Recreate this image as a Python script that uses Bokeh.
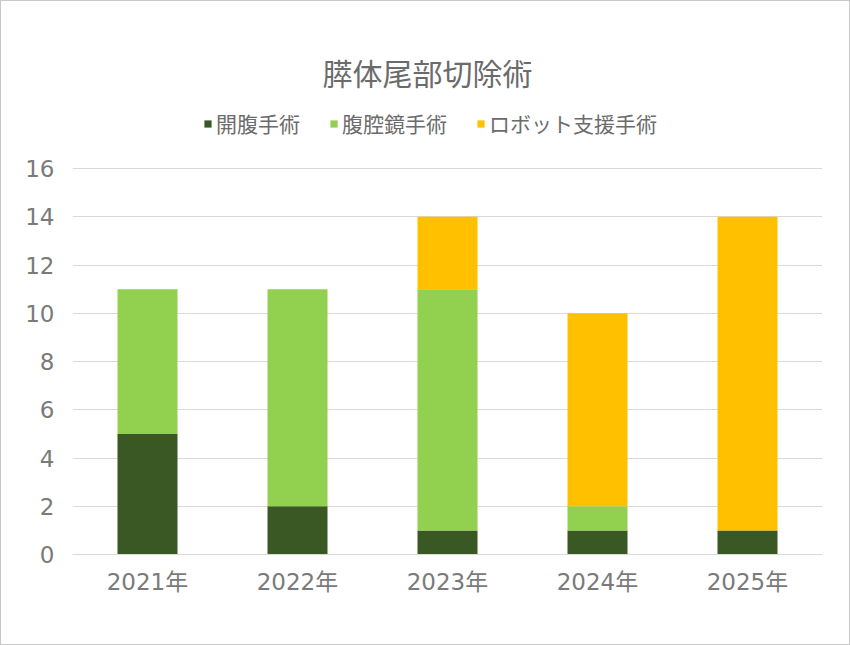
from bokeh.plotting import figure
from bokeh.models import (ColumnDataSource, FactorRange, Range1d, FixedTicker,
                          Legend, LegendItem, Label)
from bokeh.embed import file_html
from bokeh.resources import INLINE

# ---- data ----
years = ["2021年", "2022年", "2023年", "2024年", "2025年"]
open_surgery = [5, 2, 1, 1, 1]
laparoscopic = [6, 9, 10, 1, 0]
robotic = [0, 0, 3, 8, 13]
series_names = ["開腹手術", "腹腔鏡手術", "ロボット支援手術"]
y_ticks = [0, 2, 4, 6, 8, 10, 12, 14, 16]
chart_title = "膵体尾部切除術"

colors = ["#3a5823", "#92d050", "#ffc000"]
FONT = "Noto Sans CJK JP"
NUMFONT = "DejaVu Sans, Noto Sans CJK JP"
TXT = "#6b6b6b"

W, H = 850, 645
TOP, BOTTOM, LEFT, RIGHT = 20, 92, 71, 29
px_per_unit = (H - 167 - BOTTOM) / 16.0       # 16 gridline sits at y=167
y_end = (H - TOP - BOTTOM) / px_per_unit      # blank headroom for title/legend

source = ColumnDataSource(dict(year=years, open=open_surgery,
                               lap=laparoscopic, robot=robotic))

p = figure(width=W, height=H, x_range=FactorRange(*years, range_padding=0),
           y_range=Range1d(0, y_end), output_backend="svg", toolbar_location=None,
           min_border_left=LEFT, min_border_right=RIGHT, min_border_top=TOP,
           min_border_bottom=BOTTOM)
p.title = None
p.outline_line_color = None
p.styles = {"border": "1px solid #c8c8c8", "box-sizing": "border-box"}

rs = p.vbar_stack(["open", "lap", "robot"], x="year", width=0.4, color=colors,
                  line_color=None, source=source)

# axes
p.yaxis.ticker = FixedTicker(ticks=y_ticks)
for ax in (p.xaxis[0], p.yaxis[0]):
    ax.major_tick_line_color = None
    ax.minor_tick_line_color = None
    ax.major_label_text_font = NUMFONT
    ax.major_label_text_font_size = "23px"
    ax.major_label_text_color = "#7a7a7a"
p.yaxis.axis_line_color = None
p.yaxis.major_label_standoff = 12
p.xaxis.axis_line_color = "#d9d9d9"
p.xaxis.major_label_standoff = 8
p.xgrid.grid_line_color = None
p.ygrid.grid_line_color = "#d9d9d9"

legend = Legend(items=[LegendItem(label=n, renderers=[r]) for n, r in zip(series_names, rs)],
                orientation="horizontal", location=(131, 416),
                label_text_font=FONT, label_text_font_size="21px",
                label_text_color=TXT, glyph_width=9, glyph_height=9,
                label_standoff=4, spacing=29, padding=0, margin=0,
                border_line_color=None, background_fill_alpha=0)
p.add_layout(legend, "center")

title = Label(x=355, y=H - BOTTOM - 70, x_units="screen", y_units="screen",
              text=chart_title, text_align="center", text_baseline="middle",
              text_font=FONT, text_font_size="30px", text_color=TXT)
p.add_layout(title)

open("out.html", "w").write(file_html(p, INLINE))
